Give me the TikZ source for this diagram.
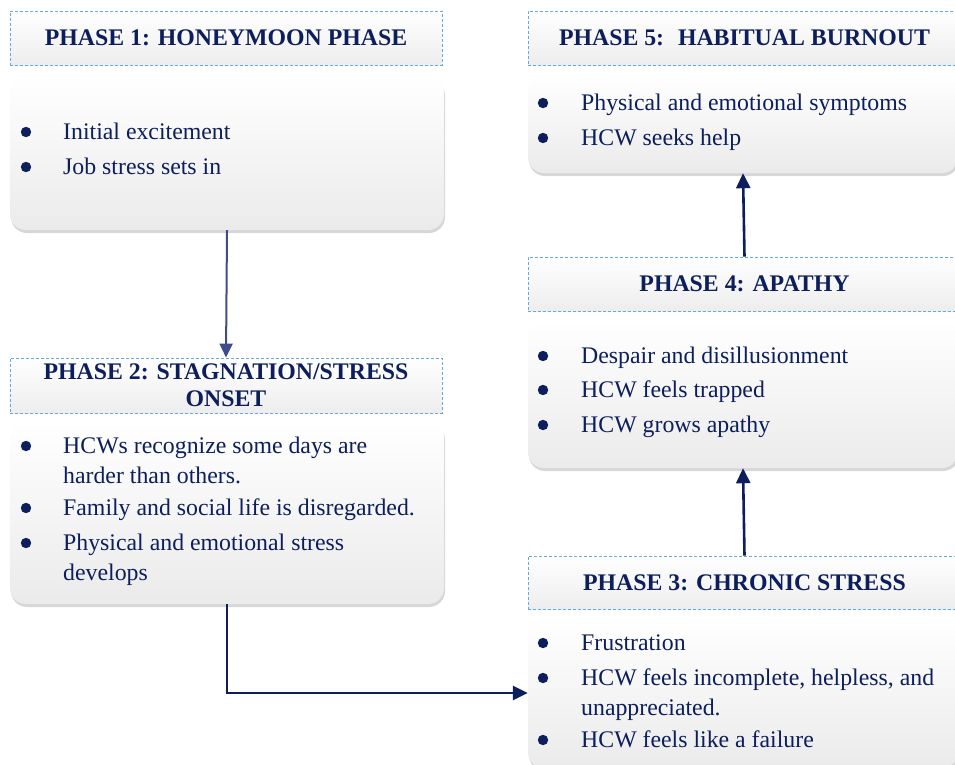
\documentclass[tikz,border=0pt]{standalone}
\usepackage{fontspec}
\setmainfont{Liberation Serif}
\usetikzlibrary{arrows.meta,shadows}
\definecolor{navy}{RGB}{12,30,92}
\definecolor{navylight}{RGB}{62,76,140}
\definecolor{dashblue}{RGB}{100,170,222}
\begin{document}
\begin{tikzpicture}[x=1bp,y=-1bp,
  head/.style={draw=dashblue, line width=0.9bp, dash pattern=on 3bp off 2bp,
    top color=white, bottom color=black!7, inner sep=0,
    minimum height=54bp, text=navy,
    font=\fontsize{23.8bp}{27bp}\selectfont\bfseries, align=center},
  bodybox/.style={rounded corners=16bp, top color=white, bottom color=black!8,
    inner sep=0,
    drop shadow={shadow xshift=1bp, shadow yshift=-3bp, fill=black!35, opacity=0.45}},
  item/.style={anchor=base west, inner sep=0, text=navy,
    font=\fontsize{23.8bp}{27bp}\selectfont},
  dot/.style={fill=navy},
  arr/.style={line width=2.6bp, draw=navy, -{Triangle[length=15bp,width=14bp]}},
  arrlight/.style={line width=2bp, draw=navylight, -{Triangle[length=14bp,width=13bp]}, navylight}
]
\useasboundingbox (0,0) rectangle (955,765);

% headers
\node[head, minimum width=432bp] (head1) at (226,38) {PHASE 1: HONEYMOON PHASE};
\node[head, minimum width=432bp, minimum height=55bp] (head2) at (226,385.5) {PHASE 2: STAGNATION/STRESS\\ONSET};
\node[head, minimum width=433bp, minimum height=53bp] (head3) at (744.5,582.5) {PHASE 3: CHRONIC STRESS};
\node[head, minimum width=433bp] (head4) at (744.5,284) {PHASE 4: APATHY};
\node[head, minimum width=433bp] (head5) at (744.5,38) {PHASE 5:~ HABITUAL BURNOUT};

% bodies
\node[bodybox, minimum width=434bp, minimum height=154bp] (body1) at (227,153) {};
\node[bodybox, minimum width=434bp, minimum height=183bp] (body2) at (227,512.5) {};
\node[bodybox, minimum width=430bp, minimum height=150bp] (body3) at (743,693) {};
\node[bodybox, minimum width=430bp, minimum height=148bp] (body4) at (743,394) {};
\node[bodybox, minimum width=430bp, minimum height=99bp] (body5) at (743,123.5) {};

% body 1
\fill[dot] (26,132) circle[radius=5.2bp];
\node[item] (t11) at (63,139) {Initial excitement};
\fill[dot] (26,167) circle[radius=5.2bp];
\node[item] (t12) at (63,174) {Job stress sets in};

% body 2
\fill[dot] (26,446) circle[radius=5.2bp];
\node[item] (t21) at (63,453) {HCWs recognize some days are};
\node[item] (t21b) at (63,483) {harder than others.};
\fill[dot] (26,508) circle[radius=5.2bp];
\node[item] (t22) at (63,515) {Family and social life is disregarded.};
\fill[dot] (26,543) circle[radius=5.2bp];
\node[item] (t23) at (63,550) {Physical and emotional stress};
\node[item] (t23b) at (63,580) {develops};

% body 3
\fill[dot] (543,643) circle[radius=5.2bp];
\node[item] (t31) at (581,650) {Frustration};
\fill[dot] (543,678) circle[radius=5.2bp];
\node[item] (t32) at (581,685) {HCW feels incomplete, helpless, and};
\node[item] (t32b) at (581,715) {unappreciated.};
\fill[dot] (543,740) circle[radius=5.2bp];
\node[item] (t33) at (581,747) {HCW feels like a failure};

% body 4
\fill[dot] (543,356) circle[radius=5.2bp];
\node[item] (t41) at (581,363) {Despair and disillusionment};
\fill[dot] (543,390) circle[radius=5.2bp];
\node[item] (t42) at (581,397) {HCW feels trapped};
\fill[dot] (543,425) circle[radius=5.2bp];
\node[item] (t43) at (581,432) {HCW grows apathy};

% body 5
\fill[dot] (543,103) circle[radius=5.2bp];
\node[item] (t51) at (581,110) {Physical and emotional symptoms};
\fill[dot] (543,138) circle[radius=5.2bp];
\node[item] (t52) at (581,145) {HCW seeks help};

% connectors
\draw[arrlight] (body1.south) -- (head2.north);
\draw[arr] (body2.south) |- (body3.west);
\draw[arr] (head3.north) -- (body4.south);
\draw[arr] (head4.north) -- (body5.south);
\end{tikzpicture}
\end{document}
